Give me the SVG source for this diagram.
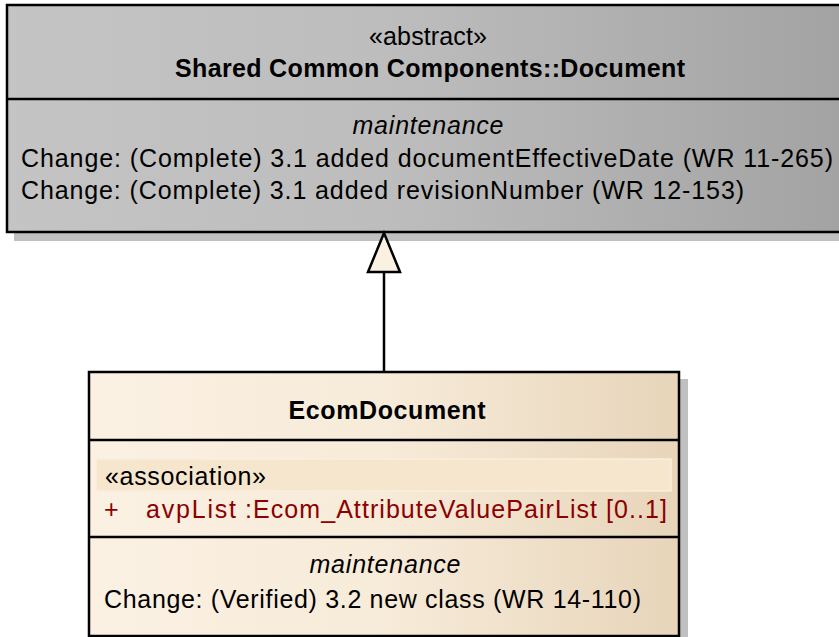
<svg xmlns="http://www.w3.org/2000/svg" width="839" height="637" viewBox="0 0 839 637">
<defs>
<linearGradient id="gGrey" x1="0" y1="0" x2="1" y2="0">
<stop offset="0" stop-color="#c4c4c4"/>
<stop offset="0.45" stop-color="#bdbdbd"/>
<stop offset="1" stop-color="#a2a2a2"/>
</linearGradient>
<linearGradient id="gTan" x1="0" y1="0" x2="1" y2="0">
<stop offset="0" stop-color="#fbf1e3"/>
<stop offset="0.5" stop-color="#f7ebd9"/>
<stop offset="1" stop-color="#e7d5ba"/>
</linearGradient>
<style>
text{font-family:"Liberation Sans",Arial,sans-serif;font-size:25px;fill:#000}
.b{font-weight:bold}
.i{font-style:italic}
.red{fill:#8b0000}
.box{stroke:#000;stroke-width:2.5}
.sh{fill:#c0c0c0}
.ln{stroke:#000;stroke-width:2.5;fill:none}
</style>
</defs>
<g id="document">
<rect class="sh" x="14" y="12" width="840" height="229"/>
<rect class="box" x="7" y="5" width="850" height="227" fill="url(#gGrey)"/>
<line class="ln" x1="7" y1="99" x2="857" y2="99"/>
<text x="428" y="45" text-anchor="middle" textLength="118">«abstract»</text>
<text class="b" x="430" y="77" text-anchor="middle" textLength="510">Shared Common Components::Document</text>
<text class="i" x="428" y="134" text-anchor="middle" textLength="151">maintenance</text>
<text x="21" y="167" textLength="812">Change: (Complete) 3.1 added documentEffectiveDate (WR 11-265)</text>
<text x="21" y="199" textLength="723">Change: (Complete) 3.1 added revisionNumber (WR 12-153)</text>
</g>
<g id="ecomdocument">
<rect class="sh" x="96" y="379" width="592" height="264"/>
<rect class="box" x="89" y="372" width="590" height="264" fill="url(#gTan)"/>
<line class="ln" x1="89" y1="440" x2="679" y2="440"/>
<line class="ln" x1="89" y1="537" x2="679" y2="537"/>
<rect x="96" y="459" width="575" height="32" fill="#f7e6ce" stroke="#faeedc" stroke-width="1.5"/>
<text class="b" x="387" y="419" text-anchor="middle" textLength="197">EcomDocument</text>
<text x="105" y="485" textLength="161">«association»</text>
<text class="red" x="104" y="518">+</text>
<text class="red" x="146" y="518" textLength="90">avpList</text>
<text class="red" x="245" y="518" textLength="422">:Ecom_AttributeValuePairList [0..1]</text>
<text class="i" x="385" y="573" text-anchor="middle" textLength="151">maintenance</text>
<text x="104" y="608" textLength="537">Change: (Verified) 3.2 new class (WR 14-110)</text>
</g>
<g id="connectors">
<line class="ln" x1="384" y1="272" x2="384" y2="372"/>
<polygon points="384,233 368,272 400,272" fill="#fbf1e3" stroke="#000" stroke-width="2.5" stroke-linejoin="miter"/>
</g>
</svg>
